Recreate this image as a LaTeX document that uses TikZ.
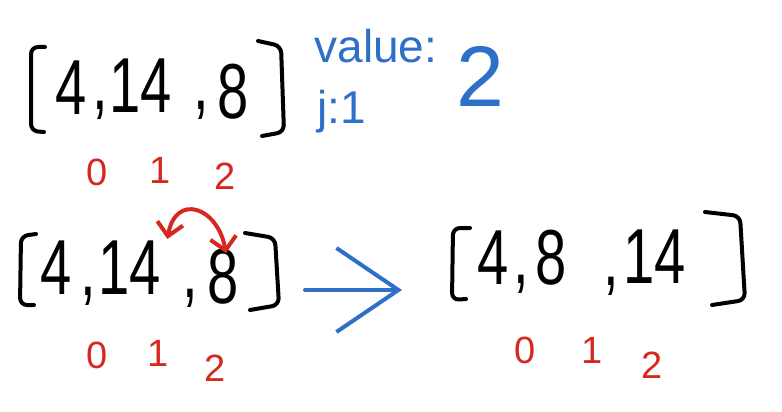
\documentclass[tikz,border=0pt]{standalone}
\usepackage{fontspec}
\setmainfont{Liberation Sans}
\usetikzlibrary{arrows.meta, positioning}
\definecolor{PenBlue}{RGB}{46, 112, 200}
\definecolor{PenRed}{RGB}{214, 40, 30}

\tikzset{
  digit/.style={font=\fontsize{78}{80}\selectfont, inner sep=0pt, xscale=0.72},
  idx/.style={font=\fontsize{38}{40}\selectfont, text=PenRed, inner sep=0pt},
  note/.style={font=\fontsize{46}{48}\selectfont, text=PenBlue, inner sep=0pt},
  bracket/.style={line width=4pt, line cap=round, line join=round, rounded corners=7pt},
}

\begin{document}
\begin{tikzpicture}[x=1pt, y=-1pt]
  \useasboundingbox (0,0) rectangle (782,412);

  % first array with the notes
  \draw[bracket] (45,47) -- (31,47) -- (31,131) -- (44,132);
  \draw[bracket] (258,41) -- (281,46) -- (284,132) -- (262,136);
  \node[digit] (t1) at (71,88) {4};
  \node[digit] (tc1) at (100,110) {,};
  \node[digit] (t2) at (141,86) {14};
  \node[digit] (tc2) at (201,110) {,};
  \node[digit] (t3) at (233,92) {8};
  \node[idx] (ti0) at (97,172) {0};
  \node[idx] (ti1) at (160,170) {1};
  \node[idx] (ti2) at (225,176) {2};
  \node[note] (value) at (376,46) {value:};
  \node[note] (jval) at (342,112) {j:1};
  \node[note, font=\fontsize{86}{88}\selectfont] (two) at (480,76) {2};

  % second array, before the swap
  \draw[bracket] (36,234) -- (21,236) -- (20,305) -- (34,305);
  \draw[bracket] (245,233) -- (275,238) -- (279,305) -- (250,310);
  \node[digit] (m1) at (56,268) {4};
  \node[digit] (mc1) at (88,296) {,};
  \node[digit] (m2) at (130,268) {14};
  \node[digit] (mc2) at (190,298) {,};
  \node[digit] (m3) at (223,277) {8};
  \node[idx] (mi0) at (97,355) {0};
  \node[idx] (mi1) at (158,353) {1};
  \node[idx] (mi2) at (215,368) {2};
  \draw[PenRed, line width=4pt, line cap=round,
        {Straight Barb[length=13pt, width=26pt]}-{Straight Barb[length=13pt, width=26pt]}]
    ([xshift=6pt, yshift=2pt]m2.north east) to[out=80, in=100, looseness=2] ([xshift=3pt, yshift=-4pt]m3.north);

  % third array, after the swap
  \draw[bracket] (470,228) -- (453,228) -- (452,300) -- (466,299);
  \draw[bracket] (705,212) -- (740,216) -- (745,300) -- (712,305);
  \node[digit] (r1) at (493,258) {4};
  \node[digit] (rc1) at (521,284) {,};
  \node[digit] (r2) at (551,258) {8};
  \node[digit] (rc2) at (611,286) {,};
  \node[digit] (r3) at (655,257) {14};
  \node[idx] (ri0) at (525,350) {0};
  \node[idx] (ri1) at (592,350) {1};
  \node[idx] (ri2) at (652,365) {2};

  % step arrow
  \coordinate (stepA) at (305,290);
  \coordinate (stepB) at (402,290);
  \draw[PenBlue, line width=4pt, line cap=round, line join=round,
        -{Straight Barb[length=62pt, width=84pt, line width=4pt]}] (stepA) -- (stepB);
\end{tikzpicture}
\end{document}
